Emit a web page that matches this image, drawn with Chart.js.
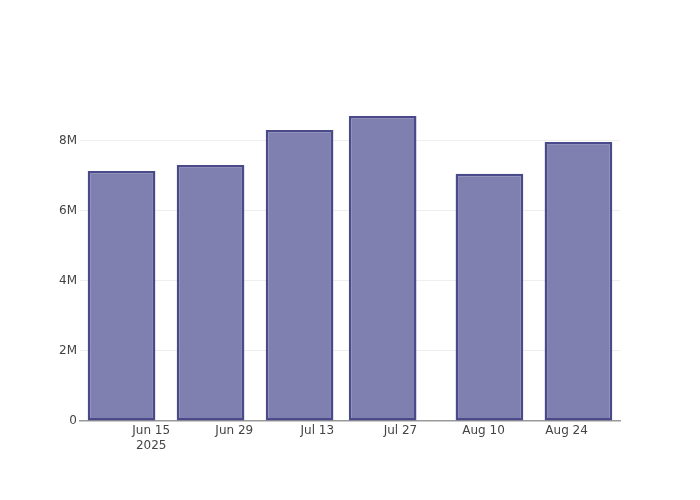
<!DOCTYPE html>
<html>
<head>
<meta charset="utf-8">
<script src="https://cdn.jsdelivr.net/npm/chart.js@4"></script>
<style>
  html, body { margin: 0; padding: 0; background: #fff; }
  #wrap { width: 700px; height: 500px; }
</style>
</head>
<body>
<div id="wrap"><canvas id="chart" width="700" height="500"></canvas></div>
<script>
// dados
const barDates = ["2025-06-10", "2025-06-25", "2025-07-10", "2025-07-24", "2025-08-11", "2025-08-26"];
const barValues = [7.14e6, 7.31e6, 8.31e6, 8.71e6, 7.06e6, 7.97e6];

const xTickDates = ["2025-06-15", "2025-06-29", "2025-07-13", "2025-07-27", "2025-08-10", "2025-08-24"];
const xTickLabels = [["Jun 15", "2025"], "Jun 29", "Jul 13", "Jul 27", "Aug 10", "Aug 24"];
const xRange = ["2025-06-03", "2025-09-02"];

const yTicks = [0, 2e6, 4e6, 6e6, 8e6];
const yTickLabels = ["0", "2M", "4M", "6M", "8M"];
const yMax = 9.14e6;

// converte data em número de dias
function toDay(s) {
  const [y, m, d] = s.split("-").map(Number);
  return Date.UTC(y, m - 1, d) / 86400000;
}

const tickDays = xTickDates.map(toDay);

new Chart(document.getElementById("chart"), {
  type: "bar",
  data: {
    datasets: [
      {
        data: barDates.map((d, i) => ({ x: toDay(d), y: barValues[i] })),
        backgroundColor: "#7f7fb0",
        borderColor: "#4a4a8b",
        borderWidth: 2.5,
        borderSkipped: false,
        barPercentage: 0.815,
        categoryPercentage: 1,
      },
    ],
  },
  options: {
    responsive: false,
    animation: false,
    layout: { padding: { top: 101, right: 80, left: 0, bottom: 0 } },
    plugins: {
      legend: { display: false },
      tooltip: { enabled: false },
    },
    scales: {
      x: {
        type: "linear",
        offset: false,
        min: toDay(xRange[0]),
        max: toDay(xRange[1]),
        afterBuildTicks: (scale) => {
          scale.ticks = tickDays.map((v) => ({ value: v }));
        },
        afterFit: (scale) => {
          scale.height = 79;
        },
        grid: { display: false, drawTicks: false },
        border: { display: true, color: "#999", width: 1.5 },
        ticks: {
          autoSkip: false,
          maxRotation: 0,
          padding: 3,
          color: "#444",
          font: { family: "DejaVu Sans", size: 12 },
          callback: (v) => {
            const i = tickDays.indexOf(v);
            return i >= 0 ? xTickLabels[i] : "";
          },
        },
      },
      y: {
        min: 0,
        max: yMax,
        afterBuildTicks: (scale) => {
          scale.ticks = yTicks.map((v) => ({ value: v }));
        },
        afterFit: (scale) => {
          scale.width = 80;
        },
        grid: {
          drawTicks: false,
          color: (ctx) => (ctx.tick && ctx.tick.value === 0 ? "rgba(0,0,0,0)" : "#eeeeee"),
          lineWidth: 1,
        },
        border: { display: false },
        ticks: {
          padding: 3,
          color: "#444",
          font: { family: "DejaVu Sans", size: 12 },
          callback: (v) => {
            const i = yTicks.indexOf(v);
            return i >= 0 ? yTickLabels[i] : "";
          },
        },
      },
    },
  },
});
</script>
</body>
</html>
